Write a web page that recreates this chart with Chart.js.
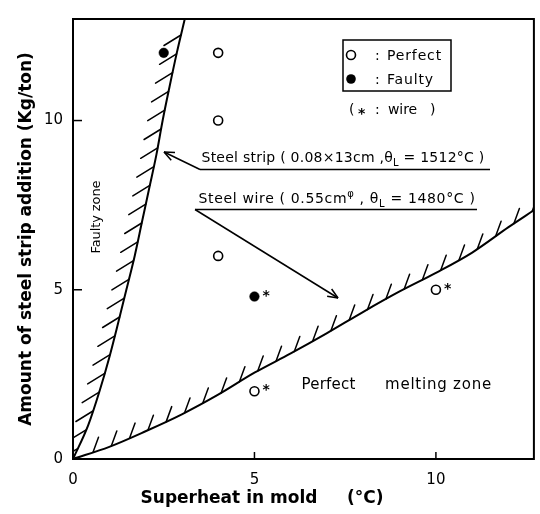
<!DOCTYPE html>
<html><head><meta charset="utf-8">
<script src="https://cdn.jsdelivr.net/npm/chart.js@4.4.1/dist/chart.umd.min.js"></script>
<style>html,body{margin:0;padding:0;background:#fff}#wrap{width:540px;height:514px}</style>
</head><body><div id="wrap"><canvas id="c" width="540" height="514"></canvas></div>
<script>
// ---- data ----
const xTicks = [0, 5, 10];
const yTicks = [0, 5, 10];
// boundary curve for steel strip (Superheat, Amount)
const stripX = [0, 0.42, 0.73, 1.0, 1.24, 1.47, 1.7, 1.9, 2.1, 2.3, 2.47, 2.66, 2.86, 3.08];
const stripY = [0, 1, 2, 3, 4, 5, 6, 7, 8, 9, 10, 11, 12, 13];
// boundary curve for steel wire
const wireX = [0, 1, 2, 3, 4, 5, 6, 7, 8, 9, 10, 11, 12, 12.7];
const wireY = [0, 0.36, 0.82, 1.32, 1.9, 2.55, 3.12, 3.72, 4.35, 4.95, 5.5, 6.1, 6.85, 7.35];
// observations
const perfectStripX = [4, 4, 4];
const perfectStripY = [12, 10, 6];
const faultyStripX = [2.5];
const faultyStripY = [12];
const perfectWireX = [5, 10];
const perfectWireY = [2, 5];
const faultyWireX = [5];
const faultyWireY = [4.8];

const FONT = '"DejaVu Sans"';
const zip = (xs, ys) => xs.map((x, i) => ({x, y: ys[i]}));

function seg(ctx, x1, y1, x2, y2) { ctx.beginPath(); ctx.moveTo(x1, y1); ctx.lineTo(x2, y2); ctx.stroke(); }

function drawRich(ctx, segs, x, y, size, target, weight) {
  ctx.save();
  ctx.textAlign = 'left'; ctx.textBaseline = 'alphabetic'; ctx.fillStyle = '#000';
  const hasLS = 'letterSpacing' in ctx;
  const fontFor = k => (weight || '') + ' ' + (k ? Math.round(size * 0.72) : size) + 'px ' + FONT;
  if (hasLS) ctx.letterSpacing = '0px';
  let nat = 0, n = 0;
  segs.forEach(([t, k]) => { ctx.font = fontFor(k); nat += ctx.measureText(t).width; n += [...t].length; });
  let ls = 0, sx = 1;
  if (target) { if (hasLS) ls = (target - nat) / n; else sx = target / nat; }
  ctx.translate(x, y); ctx.scale(sx, 1);
  let cx = 0;
  segs.forEach(([t, k]) => {
    ctx.font = fontFor(k);
    if (hasLS) ctx.letterSpacing = '0px';
    const w = ctx.measureText(t).width + ls * [...t].length;
    if (hasLS) ctx.letterSpacing = ls + 'px';
    const dy = k === 1 ? size * 0.32 : (k === 2 ? -size * 0.42 : 0);
    ctx.fillText(t, cx, dy);
    cx += w;
  });
  if (hasLS) ctx.letterSpacing = '0px';
  ctx.restore();
}

function arrow(ctx, x1, y1, x2, y2) {
  seg(ctx, x1, y1, x2, y2);
  const a = Math.atan2(y2 - y1, x2 - x1), L = 11, s = 0.4;
  seg(ctx, x2, y2, x2 - L * Math.cos(a - s), y2 - L * Math.sin(a - s));
  seg(ctx, x2, y2, x2 - L * Math.cos(a + s), y2 - L * Math.sin(a + s));
}

const deco = {
  id: 'deco',
  beforeDatasetsDraw(chart) {
    const {ctx, chartArea: ca, scales: {x: sX, y: sY}} = chart;
    ctx.save();
    ctx.beginPath(); ctx.rect(ca.left, ca.top, ca.right - ca.left, ca.bottom - ca.top); ctx.clip();
    ctx.strokeStyle = '#000'; ctx.lineWidth = 1.5; ctx.lineCap = 'round';
    // strip hatching (faulty side, to the left)
    const P = stripX.map((v, i) => [sX.getPixelForValue(v), sY.getPixelForValue(stripY[i])]);
    for (let yy = ca.top + 16; yy < ca.bottom - 4; yy += 18.8) {
      for (let i = 0; i < P.length - 1; i++) {
        const [x1, y1] = P[i], [x2, y2] = P[i + 1];
        if (yy <= y1 && yy >= y2) {
          const t = (y1 - yy) / (y1 - y2), cx = x1 + (x2 - x1) * t;
          seg(ctx, cx, yy, cx - 17, yy + 10.5); break;
        }
      }
    }
    // wire hatching (faulty side, above)
    const Q = wireX.map((v, i) => [sX.getPixelForValue(v), sY.getPixelForValue(wireY[i])]);
    for (let xx = ca.left + 20; xx < ca.right; xx += 18.3) {
      for (let i = 0; i < Q.length - 1; i++) {
        const [x1, y1] = Q[i], [x2, y2] = Q[i + 1];
        if (xx >= x1 && xx <= x2) {
          const t = (xx - x1) / (x2 - x1), cy = y1 + (y2 - y1) * t;
          seg(ctx, xx, cy, xx + 5.5, cy - 15); break;
        }
      }
    }
    ctx.restore();
  },
  afterDraw(chart) {
    const {ctx, chartArea: ca, scales: {x: sX, y: sY}} = chart;
    ctx.save();
    ctx.strokeStyle = '#000'; ctx.fillStyle = '#000';
    // frame
    ctx.lineWidth = 2;
    ctx.strokeRect(ca.left, ca.top, ca.right - ca.left, ca.bottom - ca.top);
    // inner ticks
    ctx.lineWidth = 1.5;
    xTicks.forEach(v => { const p = sX.getPixelForValue(v); seg(ctx, p, ca.bottom, p, ca.bottom - 7); });
    yTicks.forEach(v => { const p = sY.getPixelForValue(v); seg(ctx, ca.left, p, ca.left + 9, p); });
    // wire asterisks
    ctx.font = 'bold 14px ' + FONT; ctx.textAlign = 'left'; ctx.textBaseline = 'alphabetic';
    [[perfectWireX, perfectWireY], [faultyWireX, faultyWireY]].forEach(([xs, ys]) => {
      xs.forEach((v, i) => ctx.fillText('*', sX.getPixelForValue(v) + 8, sY.getPixelForValue(ys[i]) + 3));
    });
    // legend box
    ctx.lineWidth = 1.5;
    ctx.strokeRect(343, 40, 108, 51);
    ctx.lineWidth = 1.6;
    ctx.beginPath(); ctx.arc(351, 55, 4.5, 0, Math.PI * 2); ctx.fillStyle = '#fff'; ctx.fill(); ctx.stroke();
    ctx.beginPath(); ctx.arc(351, 79, 4.8, 0, Math.PI * 2); ctx.fillStyle = '#000'; ctx.fill();
    drawRich(ctx, [[':', 0]], 375, 60, 14);
    drawRich(ctx, [['Perfect', 0]], 387, 60, 14, 55);
    drawRich(ctx, [[':', 0]], 375, 84, 14);
    drawRich(ctx, [['Faulty', 0]], 387, 84, 14, 47);
    drawRich(ctx, [['(', 0]], 349, 114, 14);
    drawRich(ctx, [['*', 0]], 358, 118, 14, null, 'bold');
    drawRich(ctx, [[':', 0]], 375, 114, 14);
    drawRich(ctx, [['wire', 0]], 388, 114, 14, 29);
    drawRich(ctx, [[')', 0]], 430, 114, 14);
    // annotations
    ctx.lineWidth = 1.5; ctx.strokeStyle = '#000';
    drawRich(ctx, [['Steel strip ( 0.08×13cm ,θ', 0], ['L', 1], [' = 1512°C )', 0]], 201.5, 161.5, 14, 283);
    seg(ctx, 200, 169.5, 490, 169.5);
    arrow(ctx, 200, 169.5, 164, 152);
    drawRich(ctx, [['Steel wire ( 0.55cm', 0], ['φ', 2], [' , θ', 0], ['L', 1], [' = 1480°C )', 0]], 198.5, 203, 14, 277);
    seg(ctx, 195, 209.5, 477, 209.5);
    arrow(ctx, 195, 209.5, 338, 298);
    // zone labels
    drawRich(ctx, [['Perfect', 0]], 301.5, 389, 15, 54);
    drawRich(ctx, [['melting zone', 0]], 385, 389, 15, 107);
    ctx.save();
    ctx.translate(100, 217); ctx.rotate(-Math.PI / 2);
    drawRich(ctx, [['Faulty zone', 0]], -36.5, 0, 13, 73);
    ctx.restore();
    ctx.restore();
  }
};

const lineDs = (label, xs, ys) => ({
  label, data: zip(xs, ys), showLine: true, borderColor: '#000', borderWidth: 2,
  pointRadius: 0, cubicInterpolationMode: 'monotone', fill: false
});
const ptDs = (label, xs, ys, filled) => ({
  label, data: zip(xs, ys), showLine: false, pointRadius: filled ? 4.8 : 4.5,
  pointBackgroundColor: filled ? '#000' : '#fff', pointBorderColor: '#000', pointBorderWidth: filled ? 0.5 : 1.6
});

new Chart(document.getElementById('c'), {
  type: 'scatter',
  data: {
    datasets: [
      lineDs('Steel strip', stripX, stripY),
      lineDs('Steel wire', wireX, wireY),
      ptDs('Perfect (strip)', perfectStripX, perfectStripY, false),
      ptDs('Faulty (strip)', faultyStripX, faultyStripY, true),
      ptDs('Perfect (wire)', perfectWireX, perfectWireY, false),
      ptDs('Faulty (wire)', faultyWireX, faultyWireY, true)
    ]
  },
  options: {
    responsive: false, animation: false, devicePixelRatio: 1,
    layout: {padding: {left: 0, right: 4, top: 9, bottom: 0}},
    plugins: {legend: {display: false}, tooltip: {enabled: false}},
    scales: {
      x: {
        type: 'linear', position: 'bottom', min: 0, max: 12.7,
        afterFit(s) { s.height = 55; },
        afterBuildTicks(s) { s.ticks = xTicks.map(v => ({value: v})); },
        grid: {display: false, drawTicks: false}, border: {display: false},
        ticks: {color: '#000', font: {family: 'DejaVu Sans', size: 15}, padding: 12, maxRotation: 0, autoSkip: false},
        title: {display: true, text: 'Superheat in mold     (°C)              ', color: '#000',
          font: {family: 'DejaVu Sans', size: 17, weight: 'bold'}, padding: {top: 0, bottom: 5}}
      },
      y: {
        type: 'linear', min: 0, max: 13,
        afterFit(s) { s.width = 73; },
        afterBuildTicks(s) { s.ticks = yTicks.map(v => ({value: v})); },
        grid: {display: false, drawTicks: false}, border: {display: false},
        ticks: {color: '#000', font: {family: 'DejaVu Sans', size: 15}, padding: 10, autoSkip: false},
        title: {display: true, text: 'Amount of steel strip addition (Kg/ton)', color: '#000',
          font: {family: 'DejaVu Sans', size: 17, weight: 'bold'}, padding: {top: 16.5, bottom: 0}}
      }
    }
  },
  plugins: [deco]
});
</script>
</body></html>
